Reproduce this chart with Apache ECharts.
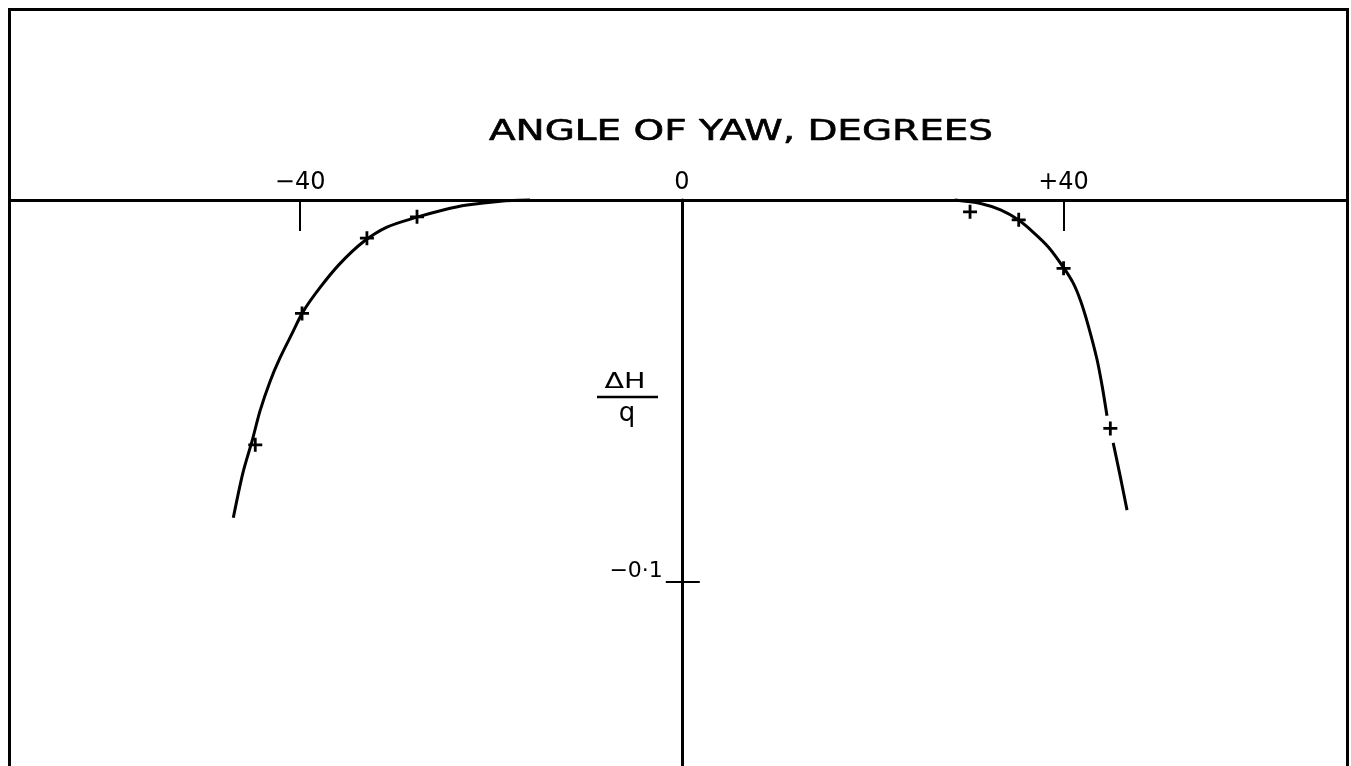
<!DOCTYPE html>
<html>
<head>
<meta charset="utf-8">
<title>Angle of yaw</title>
<script src="https://cdn.jsdelivr.net/npm/echarts@6/dist/echarts.min.js"></script>
<style>
  html, body { margin: 0; padding: 0; background: #fff; }
  #chart { width: 1351px; height: 766px; }
</style>
</head>
<body>
<div id="chart"></div>
<script>
// Faired curve, negative yaw side (degrees, ΔH/q)
const leftCurveYaw = [-47.0, -46.0, -45.0, -44.2, -43.15, -42.1, -40.85, -39.7, -37.9, -35.8, -33.4, -30.9, -27.75, -25.0, -22.5, -19.0, -15.9];
const leftCurveDH  = [-0.0832, -0.0715, -0.0628, -0.0552, -0.0475, -0.0413, -0.0350, -0.0293, -0.0229, -0.0166, -0.0110, -0.0071, -0.0045, -0.0026, -0.0013, -0.0003, 0];

// Faired curve, positive yaw side (null leaves the break near the last point)
const rightCurveYaw = [28.6, 31.3, 33.4, 35.25, 36.8, 38.4, 39.95, 41.0, 41.8, 42.6, 43.5, 44.05, 44.55, null, 45.2, 45.95, 46.65];
const rightCurveDH  = [0, -0.0009, -0.0026, -0.0052, -0.0084, -0.0123, -0.0175, -0.0217, -0.0265, -0.0330, -0.0417, -0.0488, -0.0565, null, -0.0636, -0.0725, -0.0812];

// Measured points
const pointYaw = [-27.75, -33.0, -39.8, -44.7, 30.2, 35.3, 40.0, 44.9];
const pointDH  = [-0.0044, -0.0100, -0.0297, -0.0641, -0.0031, -0.0052, -0.0179, -0.0598];

// Axis ticks and labels
const xTickValues  = [-40, 40];
const xLabelValues = [-40, 0, 40];
const yTickValues  = [-0.1];

const zip = (a, b) => a.map((v, i) => (v === null ? [null, null] : [v, b[i]]));

const INK = '#000';
const FONT = '"DejaVu Sans", sans-serif';
const plusSymbol = 'path://M0,5.6H14V8.4H0Z M5.6,0H8.4V14H5.6Z';

const chart = echarts.init(document.getElementById('chart'), null, { renderer: 'canvas' });

const yAxisBase = {
  type: 'value',
  min: -0.1482,
  max: 0,
  splitLine: { show: false },
  axisLine: { onZero: false }
};

const curveLine = { color: INK, width: 3 };

chart.setOption({
  animation: false,
  backgroundColor: '#fff',
  grid: { left: 10, right: 4, top: 200, bottom: 0, containLabel: false },
  xAxis: {
    type: 'value',
    position: 'top',
    min: -70.4,
    max: 69.7,
    splitLine: { show: false },
    axisLine: { onZero: false, lineStyle: { color: INK, width: 3 } },
    axisTick: {
      show: true,
      inside: true,
      length: 31,
      customValues: xTickValues,
      lineStyle: { color: INK, width: 2 }
    },
    axisLabel: {
      customValues: xLabelValues,
      margin: 5,
      color: INK,
      fontFamily: FONT,
      fontSize: 24,
      formatter: v => (v === 0 ? '0' : v < 0 ? '\u2212' + Math.abs(v) : '+' + v)
    }
  },
  yAxis: [
    Object.assign({}, yAxisBase, {
      position: 'left',
      offset: -671.8,
      axisLine: { onZero: false, lineStyle: { color: INK, width: 3 } },
      axisTick: {
        show: true,
        length: 16,
        customValues: yTickValues,
        lineStyle: { color: INK, width: 2 }
      },
      axisLabel: {
        customValues: yTickValues,
        margin: 19,
        color: INK,
        fontFamily: FONT,
        fontSize: 22,
        verticalAlign: 'bottom',
        formatter: () => '\u22120\u00b71'
      }
    }),
    Object.assign({}, yAxisBase, {
      position: 'left',
      offset: -671.8,
      axisLine: { show: false },
      axisTick: {
        show: true,
        inside: true,
        length: 18,
        customValues: yTickValues,
        lineStyle: { color: INK, width: 2 }
      },
      axisLabel: { show: false }
    })
  ],
  series: [
    {
      type: 'line',
      data: zip(leftCurveYaw, leftCurveDH),
      smooth: 0.3,
      showSymbol: false,
      lineStyle: curveLine,
      clip: false
    },
    {
      type: 'line',
      data: zip(rightCurveYaw, rightCurveDH),
      smooth: 0.3,
      showSymbol: false,
      connectNulls: false,
      lineStyle: curveLine,
      clip: false
    },
    {
      type: 'scatter',
      data: zip(pointYaw, pointDH),
      symbol: plusSymbol,
      symbolSize: 14,
      itemStyle: { color: INK, opacity: 1 },
      z: 5
    }
  ],
  graphic: [
    {
      // sheet border
      type: 'rect',
      shape: { x: 9.5, y: 9.5, width: 1338, height: 820 },
      style: { fill: 'none', stroke: INK, lineWidth: 3 },
      silent: true
    },
    {
      type: 'text',
      x: 741,
      y: 133,
      scaleX: 1.39,
      style: {
        text: 'ANGLE OF YAW, DEGREES',
        fill: INK,
        stroke: INK,
        lineWidth: 0.6,
        font: '28px "DejaVu Sans", sans-serif',
        align: 'center',
        verticalAlign: 'middle'
      }
    },
    {
      type: 'text',
      x: 625,
      y: 382,
      scaleX: 1.3,
      style: {
        text: '\u0394H',
        fill: INK,
        font: '22px "DejaVu Sans", sans-serif',
        align: 'center',
        verticalAlign: 'middle'
      }
    },
    {
      type: 'line',
      shape: { x1: 597, y1: 397, x2: 658, y2: 397 },
      style: { stroke: INK, lineWidth: 2.5 }
    },
    {
      type: 'text',
      x: 627,
      y: 414,
      style: {
        text: 'q',
        fill: INK,
        font: '26px "DejaVu Sans", sans-serif',
        align: 'center',
        verticalAlign: 'middle'
      }
    }
  ]
});
</script>
</body>
</html>
